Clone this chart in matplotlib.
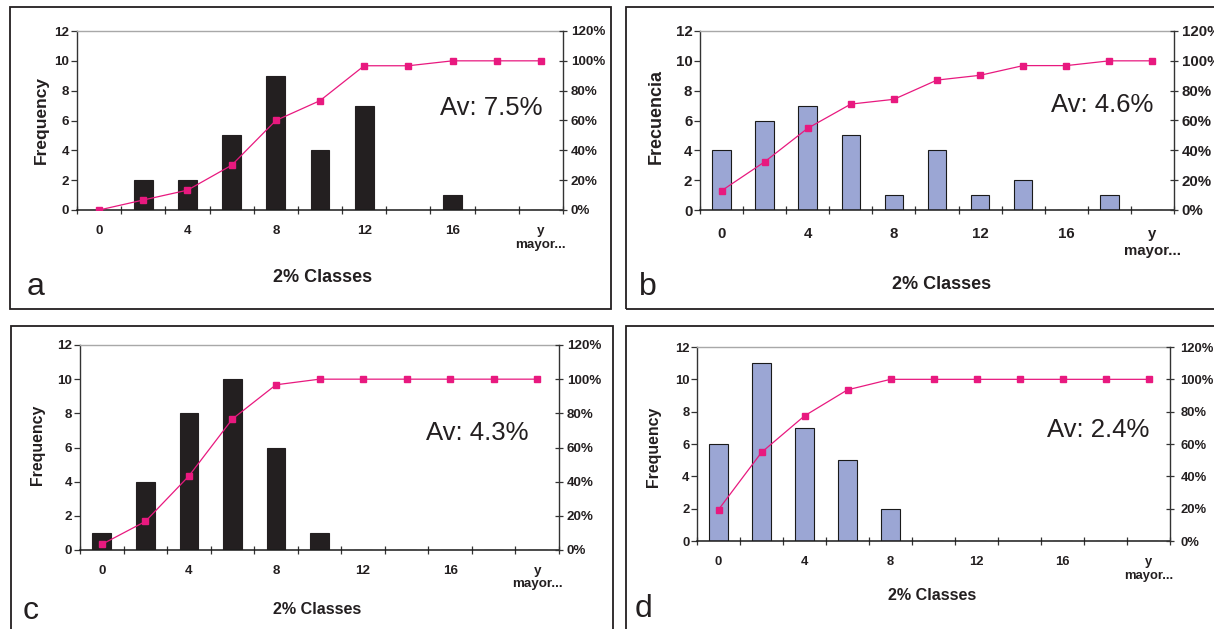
import matplotlib
matplotlib.use("Agg")
import matplotlib.pyplot as plt
from matplotlib.patches import Rectangle
from matplotlib.ticker import FixedLocator, FuncFormatter

plt.rcParams['font.family'] = ['Liberation Sans', 'DejaVu Sans']

# ---------------- data ----------------
categories = ['0', '2', '4', '6', '8', '10', '12', '14', '16', '18', 'y\nmayor...']
shown_labels = ['0', '', '4', '', '8', '', '12', '', '16', '', 'y\nmayor...']

freq_a = [0, 2, 2, 5, 9, 4, 7, 0, 1, 0, 0]
cum_a = [0, 6.7, 13.3, 30, 60, 73.3, 96.7, 96.7, 100, 100, 100]

freq_b = [4, 6, 7, 5, 1, 4, 1, 2, 0, 1, 0]
cum_b = [12.9, 32.3, 54.8, 71.0, 74.2, 87.1, 90.3, 96.8, 96.8, 100, 100]

freq_c = [1, 4, 8, 10, 6, 1, 0, 0, 0, 0, 0]
cum_c = [3.3, 16.7, 43.3, 76.7, 96.7, 100, 100, 100, 100, 100, 100]

freq_d = [6, 11, 7, 5, 2, 0, 0, 0, 0, 0, 0]
cum_d = [19.4, 54.8, 77.4, 93.5, 100, 100, 100, 100, 100, 100, 100]

averages = ['Av: 7.5%', 'Av: 4.6%', 'Av: 4.3%', 'Av: 2.4%']
ylabels = ['Frequency', 'Frecuencia', 'Frequency', 'Frequency']
xlabel = '2% Classes'
letters = ['a', 'b', 'c', 'd']

# ---------------- layout ----------------
W, H = 1214, 629
DPI = 100
fig = plt.figure(figsize=(W / DPI, H / DPI), dpi=DPI)
fig.patch.set_facecolor('white')


def fx(x):
    return x / W


def fy(y):
    return 1 - y / H


def add_axes_px(x0, y0, x1, y1):
    return fig.add_axes([fx(x0), fy(y1), fx(x1) - fx(x0), (y1 - y0) / H])


# frame boxes
boxes = [(10, 7, 611, 309), (626, 7, 1224, 309), (11, 326, 613, 640), (626, 326, 1224, 640)]
for (x0, y0, x1, y1) in boxes:
    fig.patches.append(Rectangle((fx(x0), fy(y1)), fx(x1) - fx(x0), (y1 - y0) / H,
                                 transform=fig.transFigure, fill=False,
                                 edgecolor='#231f20', linewidth=1.3, zorder=0))

panels = [
    dict(rect=(77, 31, 563, 210), freq=freq_a, cum=cum_a, color='#231f20', edge='#231f20',
         tick=9.6, ylab=12.5, xlab=13.0, ylab_pos=(41, 120), xlab_pos=(323, 278),
         av_pos=(543, 108), letter_pos=(36, 287), xpad=11.0, rpad=2.5),
    dict(rect=(700, 31, 1174, 210), freq=freq_b, cum=cum_b, color='#9ba6d4', edge='#1a1a1a',
         tick=10.8, ylab=13.0, xlab=13.0, ylab_pos=(656, 116), xlab_pos=(942, 284),
         av_pos=(1153, 105), letter_pos=(648, 287), xpad=12.5, rpad=2.5),
    dict(rect=(80, 345, 559, 550), freq=freq_c, cum=cum_c, color='#231f20', edge='#231f20',
         tick=9.6, ylab=11.4, xlab=11.6, ylab_pos=(37, 445), xlab_pos=(317, 609),
         av_pos=(528, 433), letter_pos=(31, 611), xpad=10.5, rpad=2.5),
    dict(rect=(697, 347, 1170, 541), freq=freq_d, cum=cum_d, color='#9ba6d4', edge='#1a1a1a',
         tick=9.4, ylab=11.4, xlab=11.6, ylab_pos=(653, 447), xlab_pos=(932, 595),
         av_pos=(1149, 430), letter_pos=(644, 609), xpad=11.0, rpad=4.5),
]

magenta = '#e8197f'
x = list(range(len(categories)))

for i, p in enumerate(panels):
    ax = add_axes_px(*p['rect'])
    ax.set_facecolor('none')
    ax.bar(x, p['freq'], width=0.43, color=p['color'], edgecolor=p['edge'],
           linewidth=0.8, zorder=2)
    ax.set_xlim(-0.5, len(categories) - 0.5)
    ax.set_ylim(0, 12)
    ax.set_yticks([0, 2, 4, 6, 8, 10, 12])
    ax.xaxis.set_major_locator(FixedLocator(x))
    ax.set_xticklabels(shown_labels, fontweight='bold', fontsize=p['tick'], color='#231f20',
                       linespacing=1.2, va='top')
    ax.xaxis.set_minor_locator(FixedLocator([k + 0.5 for k in range(-1, len(categories))]))
    ax.tick_params(axis='x', which='major', length=0, pad=p['xpad'])
    ax.tick_params(axis='x', which='minor', direction='inout', length=6, width=0.9,
                   color='#333333')
    ax.tick_params(axis='y', direction='out', length=4, width=0.9, pad=1.5,
                   labelsize=p['tick'], color='#333333', labelcolor='#231f20')
    for lab in ax.get_yticklabels():
        lab.set_fontweight('bold')
    ax.spines['top'].set_color('#a8a8a8')
    ax.spines['top'].set_linewidth(1.0)
    ax.spines['left'].set_color('#333333')
    ax.spines['left'].set_linewidth(1.0)
    ax.spines['bottom'].set_color('#1a1a1a')
    ax.spines['bottom'].set_linewidth(1.1)
    ax.spines['right'].set_visible(False)

    ax2 = ax.twinx()
    ax2.plot(x, p['cum'], color=magenta, linewidth=0.9, marker='s', markersize=4.5,
             markerfacecolor=magenta, markeredgecolor=magenta, zorder=3)
    ax2.set_ylim(0, 120)
    ax2.set_yticks([0, 20, 40, 60, 80, 100, 120])
    ax2.yaxis.set_major_formatter(FuncFormatter(lambda v, pos: f'{int(v)}%'))
    ax2.tick_params(axis='y', direction='inout', length=6, width=0.9, pad=p['rpad'],
                    labelsize=p['tick'], color='#333333', labelcolor='#231f20')
    for lab in ax2.get_yticklabels():
        lab.set_fontweight('bold')
    for s in ['top', 'left', 'bottom']:
        ax2.spines[s].set_visible(False)
    ax2.spines['right'].set_color('#333333')
    ax2.spines['right'].set_linewidth(1.0)

    fig.text(fx(p['ylab_pos'][0]), fy(p['ylab_pos'][1]), ylabels[i], rotation=90,
             ha='center', va='center', fontsize=p['ylab'], fontweight='bold', color='#231f20')
    fig.text(fx(p['xlab_pos'][0]), fy(p['xlab_pos'][1]), xlabel,
             ha='center', va='center', fontsize=p['xlab'], fontweight='bold', color='#231f20')
    fig.text(fx(p['av_pos'][0]), fy(p['av_pos'][1]), averages[i],
             ha='right', va='center', fontsize=18.5, color='#231f20')
    fig.text(fx(p['letter_pos'][0]), fy(p['letter_pos'][1]), letters[i],
             ha='center', va='center', fontsize=23, color='#231f20')

fig.savefig('out.png', dpi=DPI)
